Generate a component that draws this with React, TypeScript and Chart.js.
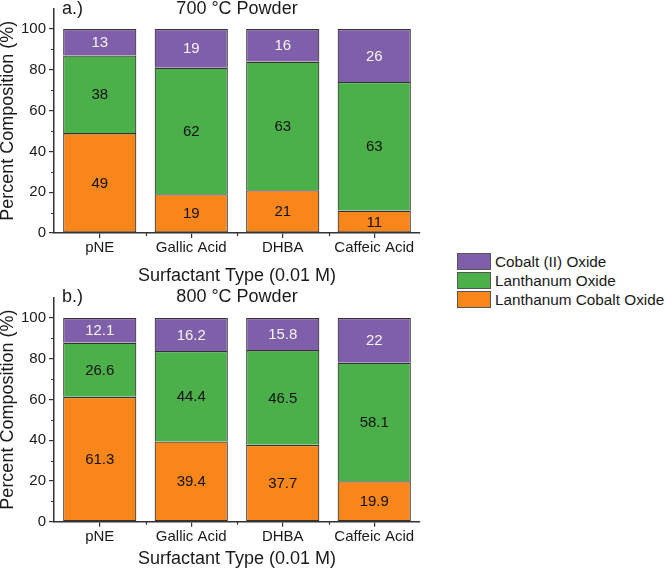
import React, { useEffect, useRef } from 'react';
import { Chart, registerables } from 'chart.js';
Chart.register(...registerables);

const FONT = "'Liberation Sans', Arial, sans-serif";

const categories = ['pNE', 'Gallic Acid', 'DHBA', 'Caffeic Acid'];
const seriesNames = ['Lanthanum Cobalt Oxide', 'Lanthanum Oxide', 'Cobalt (II) Oxide'];
const seriesColors = ['#F8861B', '#4CB04A', '#7F5FA9'];

// 700 °C powder
const lco700 = [49, 19, 21, 11];
const la700 = [38, 62, 63, 63];
const co700 = [13, 19, 16, 26];

// 800 °C powder
const lco800 = [61.3, 39.4, 37.7, 19.9];
const la800 = [26.6, 44.4, 46.5, 58.1];
const co800 = [12.1, 16.2, 15.8, 22];

const yMinorTicks = [10, 30, 50, 70, 90];
const xTitle = 'Surfactant Type (0.01 M)';
const yTitle = 'Percent Composition (%)';

const SHIFT = 3; // canvas is shifted left by this many px

const annotate = {
  id: 'annotate',
  afterDatasetsDraw(chart: any) {
    const ctx = chart.ctx;
    ctx.save();
    ctx.font = `15px ${FONT}`;
    ctx.textAlign = 'center';
    ctx.textBaseline = 'middle';
    chart.data.datasets.forEach((ds: any, di: number) => {
      const meta = chart.getDatasetMeta(di);
      meta.data.forEach((el: any, i: number) => {
        const p = el.getProps(['x', 'y', 'base'], true);
        ctx.fillStyle = di === 2 ? '#f5f5f5' : '#111';
        ctx.fillText(String(ds.data[i]), p.x, (p.y + p.base) / 2 + 1);
      });
    });
    ctx.restore();
  },
  afterDraw(chart: any, _args: any, opts: any) {
    const ctx = chart.ctx;
    const xs = chart.scales.x;
    const ys = chart.scales.y;
    const area = chart.chartArea;
    ctx.save();
    ctx.strokeStyle = '#333';
    ctx.lineWidth = 1.2;
    ctx.beginPath();
    yMinorTicks.forEach((v) => {
      const py = Math.round(ys.getPixelForValue(v)) + 0.5;
      ctx.moveTo(area.left - 3, py);
      ctx.lineTo(area.left, py);
    });
    for (let i = 0; i < categories.length - 1; i++) {
      const px = Math.round((xs.getPixelForValue(i) + xs.getPixelForValue(i + 1)) / 2) + 0.5;
      ctx.moveTo(px, area.bottom);
      ctx.lineTo(px, area.bottom + 3);
    }
    ctx.stroke();
    ctx.fillStyle = '#1a1a1a';
    ctx.textBaseline = 'middle';
    ctx.font = `18px ${FONT}`;
    ctx.textAlign = 'center';
    ctx.fillText(opts.title, (area.left + area.right) / 2, opts.titleY);
    ctx.textAlign = 'left';
    ctx.fillText(opts.tag, 62 + SHIFT, opts.titleY);
    ctx.restore();
  },
};

type PanelProps = {
  lco: number[];
  la: number[];
  co: number[];
  title: string;
  tag: string;
  top: number;
  height: number;
  padTop: number;
  axisH: number;
  titlePadBottom: number;
  titleY: number;
};

function Panel(props: PanelProps) {
  const ref = useRef<HTMLCanvasElement | null>(null);
  useEffect(() => {
    if (!ref.current) return;
    const values = [props.lco, props.la, props.co];
    const chart = new Chart(ref.current, {
      type: 'bar',
      data: {
        labels: categories,
        datasets: seriesNames.map((name, i) => ({
          label: name,
          data: values[i],
          backgroundColor: seriesColors[i],
          borderColor: '#333333',
          borderWidth: { top: 1.4, left: 1.2, right: 1.2, bottom: i === 0 ? 1.2 : 0 },
          borderSkipped: false,
          barPercentage: 0.8,
          categoryPercentage: 1,
        })),
      },
      options: {
        responsive: false,
        animation: false,
        layout: { padding: { top: props.padTop, right: 20, left: 0, bottom: 0 } },
        plugins: {
          legend: { display: false },
          tooltip: { enabled: false },
          annotate: { title: props.title, tag: props.tag, titleY: props.titleY },
        } as any,
        scales: {
          x: {
            stacked: true,
            offset: true,
            grid: { display: true, drawOnChartArea: false, offset: false, drawTicks: true, tickLength: 5, color: '#333', lineWidth: 1.2 },
            border: { display: true, color: '#333', width: 1.5 },
            ticks: { padding: 1, color: '#1a1a1a', font: { size: 15, family: FONT }, maxRotation: 0, autoSkip: false },
            title: { display: true, text: xTitle, color: '#1a1a1a', font: { size: 18, family: FONT }, padding: { top: 0, bottom: props.titlePadBottom } },
            afterFit: (s: any) => { s.height = props.axisH; s.paddingLeft = 0; s.paddingRight = 0; },
          },
          y: {
            stacked: true,
            min: 0,
            max: 110,
            grid: { display: true, drawOnChartArea: false, drawTicks: true, tickLength: 5, color: '#333', lineWidth: 1.2 },
            border: { display: true, color: '#333', width: 1.5 },
            ticks: { stepSize: 20, includeBounds: false, padding: 3, color: '#1a1a1a', font: { size: 15, family: FONT } },
            title: { display: true, text: yTitle, color: '#1a1a1a', font: { size: 18, family: FONT }, padding: 0 },
            afterFit: (s: any) => { s.width = 54 + SHIFT; s.paddingTop = 0; s.paddingBottom = 0; },
          },
        } as any,
      },
      plugins: [annotate],
    });
    return () => chart.destroy();
  }, []);
  return (
    <canvas
      ref={ref}
      width={443}
      height={props.height}
      style={{ position: 'absolute', left: -SHIFT, top: props.top, width: 443, height: props.height, display: 'block' }}
    />
  );
}

const legendOrder = [2, 1, 0];

export default function App() {
  return (
    <div style={{ position: 'absolute', left: 0, top: 0, width: 666, height: 572, background: '#fff', fontFamily: FONT, overflow: 'hidden' }}>
      <Panel lco={lco700} la={la700} co={co700} title="700 °C Powder" tag="a.)" top={0} height={300} padTop={8.5} axisH={67} titlePadBottom={13.2} titleY={9} />
      <Panel lco={lco800} la={la800} co={co800} title="800 °C Powder" tag="b.)" top={286} height={286} padTop={11.5} axisH={50.3} titlePadBottom={2.2} titleY={11} />
      <div style={{ position: 'absolute', left: 457, top: 252 }}>
        {legendOrder.map((i) => (
          <div key={i} style={{ display: 'flex', alignItems: 'center', height: 19 }}>
            <div style={{ width: 34, height: 17, boxSizing: 'border-box', border: '1px solid #555', background: seriesColors[i] }} />
            <span style={{ marginLeft: 4, fontSize: 15.3, color: '#1a1a1a', whiteSpace: 'nowrap' }}>{seriesNames[i]}</span>
          </div>
        ))}
      </div>
    </div>
  );
}
